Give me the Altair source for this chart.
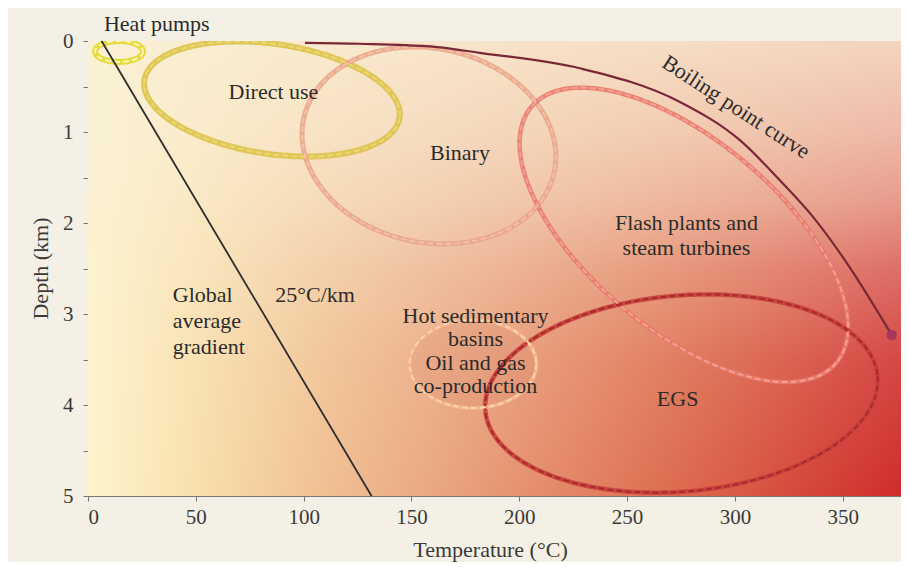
import numpy as np
import pandas as pd
import altair as alt

# ---------------- data ----------------
X_MAX = 377          # temperature axis end (°C)
Y_MAX = 5            # depth axis end (km)
x_ticks = [0, 50, 100, 150, 200, 250, 300, 350]
y_ticks = [0, 0.5, 1, 1.5, 2, 2.5, 3, 3.5, 4, 4.5, 5]

# boiling point curve (temperature °C, depth km)
boil_t = [100.6, 126.0, 158.6, 181.7, 228.1, 274.5, 302.3, 320.8, 336.1, 351.9, 372.7]
boil_d = [0.02, 0.03, 0.06, 0.13, 0.30, 0.67, 1.09, 1.53, 1.93, 2.44, 3.23]

# global average gradient 25 °C/km
grad_t = [6.3, 131.5]
grad_d = [0.0, 5.0]

# technology envelopes: centre (°C, km), half-width (°C), half-height (km), tilt (deg)
ell_name = ["Heat pumps", "Direct use", "Binary", "Flash", "EGS", "Hot sed"]
ell_cx = [14.4, 85.3, 158.1, 276.3, 275.2, 178.5]
ell_cy = [0.115, 0.637, 1.148, 2.13, 3.874, 3.55]
ell_a = [11.1, 59.8, 59.4, 92.3, 91.3, 29.4]
ell_b = [0.115, 0.604, 1.066, 1.044, 1.077, 0.484]
ell_tilt = [0, 8.4, 12, 40, -5, 0]

# annotation labels
lab_text = ["Direct use", "Binary", "Flash plants and\nsteam turbines", "25°C/km",
            "Hot sedimentary\nbasins\nOil and gas\nco-production", "EGS"]
lab_t = [86.0, 172.5, 277.5, 105.3, 179.7, 273.4]
lab_d = [0.637, 1.308, 2.077, 2.865, 3.096, 4.011]

# ---------------- styling ----------------
W, H = 813, 455
PX_C = W / X_MAX
PX_KM = H / Y_MAX
FONT = "Liberation Serif"
TXT = "#2b2b2b"
WASH = "250,240,215"

base_col = {"Heat pumps": "#e3d82e", "Direct use": "#dcc24a", "Binary": "#eaa58a",
            "Flash": "#e87a6c", "EGS": "#c8403c", "Hot sed": "#f2b488"}
dash_col = {"Heat pumps": "#fbf4b4", "Direct use": "#ebd872", "Binary": "#f3c0a8",
            "Flash": "#f5a090", "EGS": "#a82a2c", "Hot sed": "#f9d2b2"}
base_w = {"Heat pumps": 6, "Direct use": 6, "Binary": 5, "Flash": 4.5, "EGS": 4.5, "Hot sed": 4}

# ellipse outlines through the axis scales
rows = []
t = np.linspace(0, 2 * np.pi, 241)
for n, cx, cy, a, b, th in zip(ell_name, ell_cx, ell_cy, ell_a, ell_b, ell_tilt):
    ap, bp, r = a * PX_C, b * PX_KM, np.radians(th)
    ux, uy = ap * np.cos(t), bp * np.sin(t)
    rx = ux * np.cos(r) - uy * np.sin(r)
    ry = ux * np.sin(r) + uy * np.cos(r)
    for i in range(len(t)):
        rows.append({"name": n, "i": i, "temp": cx + rx[i] / PX_C, "depth": cy + ry[i] / PX_KM,
                     "c1": base_col[n], "c2": dash_col[n], "w": base_w[n]})
ell_df = pd.DataFrame(rows)

boil_df = pd.DataFrame({"temp": boil_t, "depth": boil_d, "i": range(len(boil_t))})
grad_df = pd.DataFrame({"temp": grad_t, "depth": grad_d})
bg_df = pd.DataFrame({"temp": [0], "temp2": [X_MAX], "depth": [0], "depth2": [Y_MAX]})
hot_df = pd.DataFrame({"temp": [ell_cx[5]], "depth": [ell_cy[5]]})

xs = alt.Scale(domain=[0, X_MAX], nice=False, zero=False)
ys = alt.Scale(domain=[0, Y_MAX], nice=False, zero=False, reverse=True)
x_axis = alt.Axis(values=x_ticks, title="Temperature (°C)", grid=False, tickSize=5,
                  labelPadding=5, titleX=402, titleY=53, titleBaseline="middle",
                  titleAlign="center")
y_axis = alt.Axis(values=y_ticks, title="Depth (km)", grid=False, tickSize=5, labelPadding=10,
                  labelExpr="datum.value % 1 === 0 ? format(datum.value, 'd') : ''",
                  titleX=-48, titleY=227, titleAngle=-90, titleAlign="center",
                  titleBaseline="middle")


def X(f="temp"):
    return alt.X(f"{f}:Q", scale=xs, axis=x_axis)


def Y(f="depth"):
    return alt.Y(f"{f}:Q", scale=ys, axis=y_axis)


# background gradient: horizontal yellow -> red, then cream wash fading downwards
bg_h = alt.Chart(bg_df).mark_rect(
    color=alt.LinearGradient(
        gradient="linear", x1=0, x2=1, y1=0, y2=0,
        stops=[alt.GradientStop(color="#fdf4cc", offset=0),
               alt.GradientStop(color="#f9e2b0", offset=0.12),
               alt.GradientStop(color="#f1c294", offset=0.28),
               alt.GradientStop(color="#eaa882", offset=0.42),
               alt.GradientStop(color="#e58e6c", offset=0.55),
               alt.GradientStop(color="#df7455", offset=0.68),
               alt.GradientStop(color="#d95a44", offset=0.8),
               alt.GradientStop(color="#cf2c2c", offset=1)])
).encode(x=X(), x2="temp2:Q", y=Y(), y2="depth2:Q")

bg_v = alt.Chart(bg_df).mark_rect(
    color=alt.LinearGradient(
        gradient="linear", x1=0, x2=0, y1=0, y2=1,
        stops=[alt.GradientStop(color=f"rgba({WASH},0.86)", offset=0),
               alt.GradientStop(color=f"rgba({WASH},0.72)", offset=0.2),
               alt.GradientStop(color=f"rgba({WASH},0.57)", offset=0.35),
               alt.GradientStop(color=f"rgba({WASH},0.34)", offset=0.5),
               alt.GradientStop(color=f"rgba({WASH},0.14)", offset=0.7),
               alt.GradientStop(color=f"rgba({WASH},0.0)", offset=1)])
).encode(x=X(), x2="temp2:Q", y=Y(), y2="depth2:Q")

# faint fill of the hot sedimentary basins envelope
hot_fill = alt.Chart(hot_df).mark_point(
    shape="M-1,0 A1,0.69 0 1,1 1,0 A1,0.69 0 1,1 -1,0 Z",
    filled=True, fill="#d9826a", opacity=0.22, size=(2 * ell_a[5] * PX_C) ** 2, strokeWidth=0
).encode(x=X(), y=Y())

ell_base = alt.Chart(ell_df).mark_line(opacity=0.9, clip=True).encode(
    x=X(), y=Y(), order="i:Q", detail="name:N",
    stroke=alt.Stroke("c1:N", scale=None), strokeWidth=alt.StrokeWidth("w:Q", scale=None))

ell_dash = alt.Chart(ell_df).mark_line(strokeWidth=2, strokeDash=[6, 3], clip=True).encode(
    x=X(), y=Y(), order="i:Q", detail="name:N",
    stroke=alt.Stroke("c2:N", scale=None))

boil = alt.Chart(boil_df).mark_line(color="#7a2838", strokeWidth=2.2, interpolate="monotone").encode(
    x=X(), y=Y(), order="i:Q")

boil_end = alt.Chart(boil_df.tail(1)).mark_circle(color="#a8355a", size=110, opacity=1).encode(
    x=X(), y=Y())

grad = alt.Chart(grad_df).mark_line(color="#2e2e2e", strokeWidth=1.8).encode(x=X(), y=Y())


def text_layer(texts, ts, ds, align="center", baseline="alphabetic", line_h=24, angle=0):
    df = pd.DataFrame({"label": texts, "temp": ts, "depth": ds})
    return alt.Chart(df).mark_text(
        font=FONT, fontSize=22, color=TXT, align=align, baseline=baseline,
        lineBreak="\n", lineHeight=line_h, angle=angle
    ).encode(x=X(), y=Y(), text="label:N")


lab_simple = text_layer([lab_text[0], lab_text[1], lab_text[3], lab_text[5]],
                        [lab_t[0], lab_t[1], lab_t[3], lab_t[5]],
                        [lab_d[0], lab_d[1], lab_d[3], lab_d[5]])
lab_flash = text_layer([lab_text[2]], [lab_t[2]], [lab_d[2]], line_h=25)
lab_hot = text_layer([lab_text[4]], [lab_t[4]], [lab_d[4]], line_h=23.5)
lab_global = text_layer(["Global\naverage\ngradient"], [39.3], [2.865], align="left", line_h=26)
lab_heat = text_layer(["Heat pumps"], [7.4], [-0.113], align="left")
lab_boil = text_layer(["Boiling point curve"], [300.5], [0.725], baseline="middle", angle=33)

chart = alt.layer(
    bg_h, bg_v, hot_fill, ell_base, ell_dash, boil, boil_end, grad,
    lab_simple, lab_flash, lab_hot, lab_global, lab_heat, lab_boil
).properties(
    width=W, height=H, background="#f4f0e6",
    padding={"left": 80, "top": 33, "right": 0, "bottom": 66},
    autosize=alt.AutoSizeParams(type="none")
).configure_view(
    stroke="#777777", strokeWidth=1
).configure_axis(
    labelFont=FONT, titleFont=FONT, labelFontSize=21, titleFontSize=22,
    labelColor="#3a3a3a", titleColor="#3a3a3a", titleFontWeight="normal",
    domainColor="#777777", tickColor="#777777"
)

chart.save("out.html", embed_options={"renderer": "svg", "actions": False})
